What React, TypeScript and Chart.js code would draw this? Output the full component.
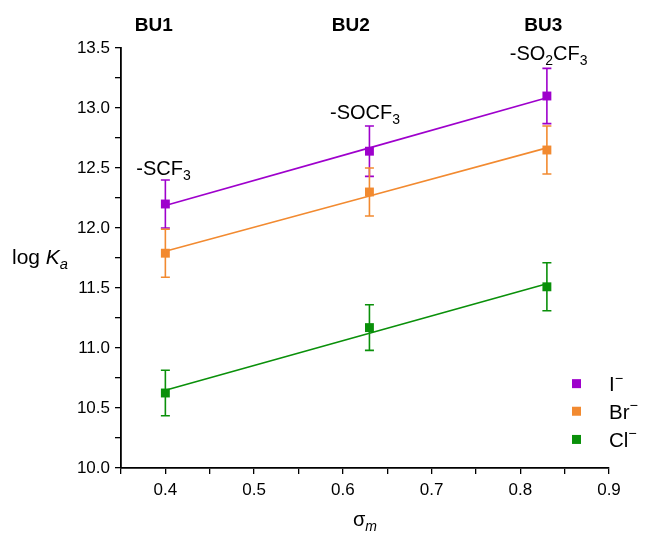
import React, { useEffect, useRef } from "react";
import { Chart, registerables } from "chart.js";

Chart.register(...registerables);

const sigmaM = [0.4, 0.63, 0.83];
const groups = ["BU1", "BU2", "BU3"];
const substituents = [
  [{ t: "-SCF" }, { t: "3", sub: true }],
  [{ t: "-SOCF" }, { t: "3", sub: true }],
  [{ t: "-SO" }, { t: "2", sub: true }, { t: "CF" }, { t: "3", sub: true }],
];
const iodideLogK = [12.2, 12.64, 13.1];
const iodideErr = [0.2, 0.21, 0.23];
const bromideLogK = [11.79, 12.3, 12.65];
const bromideErr = [0.2, 0.2, 0.2];
const chlorideLogK = [10.625, 11.17, 11.51];
const chlorideErr = [0.19, 0.19, 0.2];
const seriesNames = ["I", "Br", "Cl"];

const COLORS = ["#9E00CC", "#F28A30", "#0A900A"];
const FONT = "'Liberation Sans', Arial, sans-serif";

function fit(xs: number[], ys: number[]) {
  const n = xs.length;
  const mx = xs.reduce((a, b) => a + b, 0) / n;
  const my = ys.reduce((a, b) => a + b, 0) / n;
  let sxy = 0, sxx = 0;
  for (let i = 0; i < n; i++) {
    sxy += (xs[i] - mx) * (ys[i] - my);
    sxx += (xs[i] - mx) ** 2;
  }
  const b = sxy / sxx;
  const a = my - b * mx;
  return xs.map((x) => ({ x, y: a + b * x }));
}

function drawRich(ctx: CanvasRenderingContext2D, parts: any[], x: number, y: number, size: number, align: "left" | "center", weight = "normal") {
  const fontFor = (p: any) => {
    const s = p.sub || p.sup ? size * 0.7 : size;
    return `${p.italic ? "italic " : ""}${weight} ${s}px ${FONT}`;
  };
  let total = 0;
  for (const p of parts) {
    ctx.font = fontFor(p);
    total += ctx.measureText(p.t).width;
  }
  let cx = align === "center" ? x - total / 2 : x;
  ctx.textAlign = "left";
  ctx.textBaseline = "alphabetic";
  for (const p of parts) {
    ctx.font = fontFor(p);
    const dy = p.sub ? size * 0.25 : p.sup ? -size * 0.42 : 0;
    ctx.fillText(p.t, cx, y + dy);
    cx += ctx.measureText(p.t).width;
  }
}

const overlay = {
  id: "overlay",
  afterDatasetsDraw(chart: any) {
    const ctx = chart.ctx as CanvasRenderingContext2D;
    const xs = chart.scales.x;
    const ys = chart.scales.y;
    const vals = [iodideLogK, bromideLogK, chlorideLogK];
    const errs = [iodideErr, bromideErr, chlorideErr];
    ctx.save();
    for (let s = 0; s < 3; s++) {
      ctx.strokeStyle = COLORS[s];
      ctx.lineWidth = 1.6;
      for (let i = 0; i < sigmaM.length; i++) {
        const px = xs.getPixelForValue(sigmaM[i]);
        const top = ys.getPixelForValue(vals[s][i] + errs[s][i]);
        const bot = ys.getPixelForValue(vals[s][i] - errs[s][i]);
        ctx.beginPath();
        ctx.moveTo(px, top);
        ctx.lineTo(px, bot);
        ctx.moveTo(px - 4.5, top);
        ctx.lineTo(px + 4.5, top);
        ctx.moveTo(px - 4.5, bot);
        ctx.lineTo(px + 4.5, bot);
        ctx.stroke();
      }
    }
    ctx.restore();
  },
  afterDraw(chart: any) {
    const ctx = chart.ctx as CanvasRenderingContext2D;
    const xs = chart.scales.x;
    const ys = chart.scales.y;
    const area = chart.chartArea;
    ctx.save();
    ctx.fillStyle = "#000";
    const groupX = [0.387, 0.609, 0.826];
    groups.forEach((g, i) => {
      drawRich(ctx, [{ t: g }], xs.getPixelForValue(groupX[i]), 31, 19, "center", "bold");
    });
    const subPos = [
      { x: 0.398, y: 12.44 },
      { x: 0.625, y: 12.91 },
      { x: 0.832, y: 13.4 },
    ];
    substituents.forEach((parts, i) => {
      drawRich(ctx, parts, xs.getPixelForValue(subPos[i].x), ys.getPixelForValue(subPos[i].y), 20, "center");
    });
    drawRich(ctx, [{ t: "log " }, { t: "K", italic: true }, { t: "a", italic: true, sub: true }], 12, 263.5, 21, "left");
    drawRich(ctx, [{ t: "σ" }, { t: "m", italic: true, sub: true }], (area.left + area.right) / 2, 526, 20, "center");
    const legY = [10.703, 10.473, 10.238];
    seriesNames.forEach((n, i) => {
      const y = ys.getPixelForValue(legY[i]);
      ctx.fillStyle = COLORS[i];
      ctx.fillRect(572, y - 4.5, 9, 9);
      ctx.fillStyle = "#000";
      drawRich(ctx, [{ t: n }, { t: "−", sup: true }], 609, y + 7.5, 20.5, "left");
    });
    ctx.restore();
  },
};

export default function App() {
  const ref = useRef<HTMLCanvasElement>(null);
  useEffect(() => {
    if (!ref.current) return;
    const series = [iodideLogK, bromideLogK, chlorideLogK];
    const datasets: any[] = [];
    series.forEach((vals, s) => {
      datasets.push({
        label: seriesNames[s] + " fit",
        data: fit(sigmaM, vals),
        borderColor: COLORS[s],
        borderWidth: 1.6,
        pointRadius: 0,
        showLine: true,
        order: 2,
      });
      datasets.push({
        label: seriesNames[s],
        data: sigmaM.map((x, i) => ({ x, y: vals[i] })),
        backgroundColor: COLORS[s],
        borderColor: COLORS[s],
        borderWidth: 0,
        pointStyle: "rect",
        pointRadius: 6.3,
        showLine: false,
        order: 1,
      });
    });
    const tickFont = { family: FONT, size: 17 };
    const chart = new Chart(ref.current, {
      type: "scatter",
      data: { datasets },
      options: {
        animation: false,
        responsive: false,
        devicePixelRatio: 1,
        layout: { padding: { top: 48, right: 48, left: 0, bottom: 0 } },
        plugins: { legend: { display: false }, tooltip: { enabled: false } },
        scales: {
          x: {
            type: "linear",
            min: 0.35,
            max: 0.9,
            afterFit: (s: any) => { s.height = 67; },
            ticks: {
              stepSize: 0.05,
              color: "#000",
              font: tickFont,
              padding: 6,
              autoSkip: false,
              maxRotation: 0,
              callback: (v: any) => {
                const k = Math.round(v * 100);
                return k % 10 === 0 ? (k / 100).toFixed(1) : "";
              },
            },
            grid: {
              drawOnChartArea: false,
              drawTicks: true,
              tickLength: 6,
              color: "#000",
              lineWidth: 1.3,
            },
            border: { display: true, color: "#000", width: 1.8 },
          },
          y: {
            type: "linear",
            min: 10,
            max: 13.5,
            afterFit: (s: any) => { s.width = 121; },
            ticks: {
              stepSize: 0.25,
              color: "#000",
              font: tickFont,
              padding: 5,
              autoSkip: false,
              callback: (v: any) => {
                const k = Math.round(v * 100);
                return k % 50 === 0 ? (k / 100).toFixed(1) : "";
              },
            },
            grid: {
              drawOnChartArea: false,
              drawTicks: true,
              tickLength: 6,
              color: "#000",
              lineWidth: 1.3,
            },
            border: { display: true, color: "#000", width: 1.8 },
          },
        },
      },
      plugins: [overlay],
    } as any);
    return () => chart.destroy();
  }, []);
  return (
    <div style={{ position: "absolute", left: 0, top: 0, width: 657, height: 535, background: "#fff" }}>
      <canvas ref={ref} width={657} height={535} style={{ width: 657, height: 535 }} />
    </div>
  );
}
